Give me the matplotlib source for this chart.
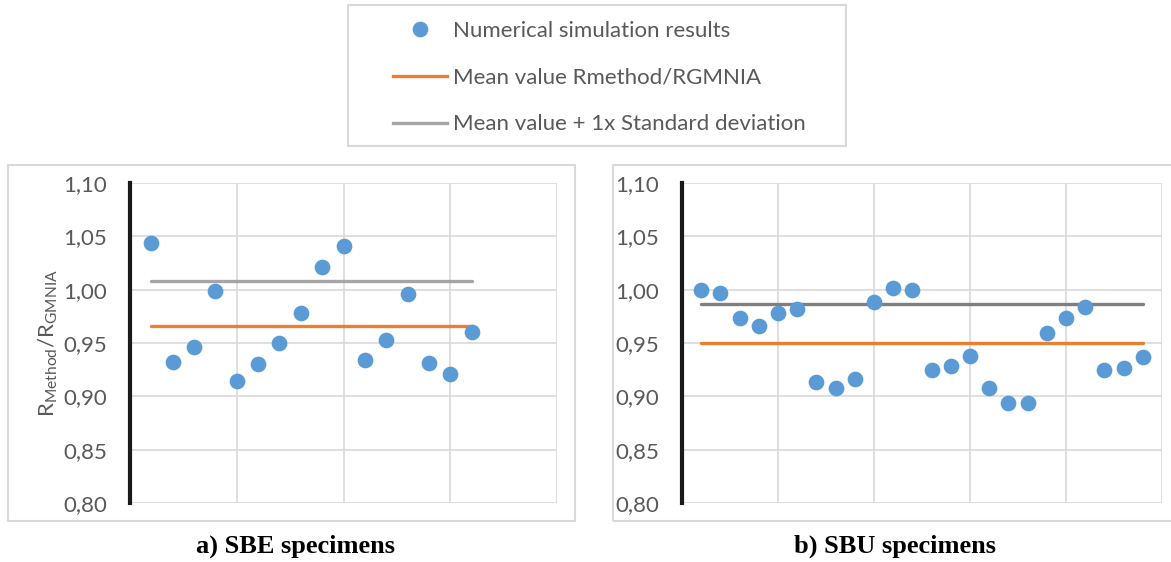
import matplotlib.pyplot as plt
from matplotlib.patches import Rectangle
from matplotlib.lines import Line2D
from matplotlib.ticker import FuncFormatter, MultipleLocator

# donnees
sbe_ratio = [1.044, 0.932, 0.946, 0.999, 0.914, 0.930, 0.950, 0.978,
             1.021, 1.041, 0.934, 0.953, 0.996, 0.931, 0.921, 0.960]
sbe_mean = 0.966
sbe_mean_std = 1.008

sbu_ratio = [1.000, 0.997, 0.973, 0.966, 0.978, 0.982, 0.913, 0.908,
             0.916, 0.988, 1.002, 1.000, 0.925, 0.928, 0.938, 0.908,
             0.894, 0.894, 0.959, 0.973, 0.984, 0.925, 0.927, 0.937]
sbu_mean = 0.950
sbu_mean_std = 0.987

titres = ["a) SBE specimens", "b) SBU specimens"]
legende = ["Numerical simulation results", "Mean value Rmethod/RGMNIA",
           "Mean value + 1x Standard deviation"]

C_POINT = "#5b9bd5"
C_MEAN = "#ed7d31"
C_GRID = "#d9d9d9"
C_TEXT = "#595959"
FONT = "Lato"

W, H = 1171, 562
fig = plt.figure(figsize=(W / 100, H / 100), dpi=100)
fig.patch.set_facecolor("white")


def px(x, y, w, h):
    # pixels (haut-gauche) -> coordonnees figure
    return [x / W, 1 - (y + h) / H, w / W, h / H]


def cadre(x0, y0, x1, y1):
    r = Rectangle((x0 / W, 1 - y1 / H), (x1 - x0) / W, (y1 - y0) / H,
                  transform=fig.transFigure, facecolor="none",
                  edgecolor=C_GRID, linewidth=1.5)
    fig.add_artist(r)


def panneau(rect, valeurs, moy, moy_std, xmax, c_std, ylabel=None):
    ax = fig.add_axes(rect)
    xs = list(range(1, len(valeurs) + 1))
    ax.plot([1, len(valeurs)], [moy_std, moy_std], color=c_std, lw=2.4,
            solid_capstyle="round", zorder=2)
    ax.plot([1, len(valeurs)], [moy, moy], color=C_MEAN, lw=2.4,
            solid_capstyle="round", zorder=2)
    ax.plot(xs, valeurs, "o", color=C_POINT, markersize=10.3, zorder=3)
    ax.set_xlim(0, xmax)
    ax.set_ylim(0.80, 1.10)
    ax.xaxis.set_major_locator(MultipleLocator(5))
    ax.yaxis.set_major_locator(MultipleLocator(0.05))
    ax.yaxis.set_major_formatter(FuncFormatter(lambda v, p: f"{v:.2f}".replace(".", ",")))
    ax.grid(True, color=C_GRID, lw=1.2, zorder=0)
    for s in ["top", "right", "bottom"]:
        ax.spines[s].set_visible(False)
    ax.spines["left"].set_color("#1a1a1a")
    ax.spines["left"].set_linewidth(3)
    ax.spines["left"].set_zorder(4)
    ax.tick_params(axis="x", length=0, labelbottom=False)
    ax.tick_params(axis="y", length=0, pad=16.5, labelsize=16, labelcolor=C_TEXT)
    for t in ax.get_yticklabels():
        t.set_family(FONT)
    ax.set_axisbelow(True)
    if ylabel:
        ax.set_ylabel(ylabel, fontsize=16, color=C_TEXT, family=FONT, labelpad=2)
    return ax


cadre(8, 165, 575, 521)
cadre(613, 165, 1175, 521)

panneau(px(130, 183, 427, 320), sbe_ratio, sbe_mean, sbe_mean_std, 20, "#a5a5a5",
        ylabel=r"R$_{\mathregular{Method}}$/R$_{\mathregular{GMNIA}}$")
panneau(px(682, 183, 480, 320), sbu_ratio, sbu_mean, sbu_mean_std, 25, "#7f7f7f")

fig.text(296 / W, 1 - 546 / H, titres[0], ha="center", va="center",
         fontsize=19, fontweight="bold", family="Liberation Serif")
fig.text(895 / W, 1 - 546 / H, titres[1], ha="center", va="center",
         fontsize=19, fontweight="bold", family="Liberation Serif")

# legende
cadre(348, 5, 846, 146)
poignees = [Line2D([], [], ls="none", marker="o", color=C_POINT, markersize=10.3),
            Line2D([], [], color=C_MEAN, lw=2.4),
            Line2D([], [], color="#a5a5a5", lw=2.4)]
fig.legend(poignees, legende, loc="upper left", bbox_to_anchor=(393 / W, 1 - 21 / H),
           frameon=False, borderpad=0, borderaxespad=0, handlelength=2.43,
           handletextpad=0.25, labelspacing=1.2,
           prop={"family": FONT, "size": 16}, labelcolor=C_TEXT)

plt.savefig("out.png", dpi=100)
